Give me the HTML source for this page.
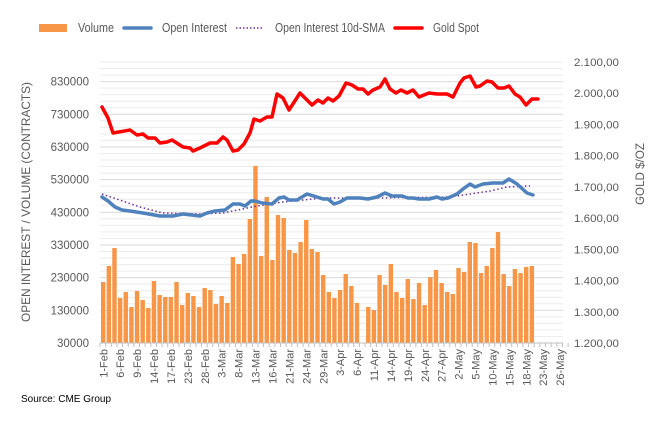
<!DOCTYPE html>
<html><head><meta charset="utf-8"><style>
html,body{margin:0;padding:0;background:#fff}
svg{display:block;font-family:"Liberation Sans",sans-serif}
</style></head><body>
<svg id="c" width="664" height="422" viewBox="0 0 664 422" xmlns="http://www.w3.org/2000/svg"></svg>
<script>
(function(){
var s=document.getElementById('c');var h='';
var T=62,B=343,L=100,R=563;
function yl(v){return B-(v-30000)*(B-T)/860000;}
for(var v=30000;v<=890000;v+=20000){var y=yl(v);var maj=((v-30000)%100000===0);h+='<line x1="'+L+'" x2="'+R+'" y1="'+y+'" y2="'+y+'" stroke="'+(maj?'#d9d9d9':'#ececec')+'" stroke-width="1"/>';}
for(var v=30000;v<=830000;v+=100000){h+='<text x="89" y="'+(yl(v)+4)+'" font-size="11.5" fill="#595959" text-anchor="end">'+v+'</text>';}
for(var i=0;i<=9;i++){var val=1200+i*100;var y=B-i*(B-T)/9;var str=(val>=1000?(Math.floor(val/1000)+'.'+String(val%1000).padStart(3,'0')):val)+',00';h+='<text x="574" y="'+(y+4)+'" font-size="11" fill="#595959" textLength="45" lengthAdjust="spacingAndGlyphs">'+str+'</text>';}
var b1=[282,266,248,298,292,307,291,300,308,281,295,297,297,282,305,293,296,307,288,290,304,296,303,257,264,254,219,166,256,197,260,215,218,250,253,242,220,249,252,275,292,298,290,274,286,303];
var b2=[307,310,275,285,264,292,298,279,299,283,305,277,270,283,292,294,268,272,242,243,273,266,248,232,274,286,269,273,267,266];
var P=5.64;
b1.forEach(function(t,i){h+='<rect x="'+(101+P*i)+'" y="'+t+'" width="4.4" height="'+(B-t)+'" fill="#f79646"/>';});
b2.forEach(function(t,i){h+='<rect x="'+(101+P*(47+i))+'" y="'+t+'" width="4.4" height="'+(B-t)+'" fill="#f79646"/>';});
h+='<line x1="'+L+'" x2="'+R+'" y1="'+B+'" y2="'+B+'" stroke="#bfbfbf"/>';
for(var i=0;i<=83;i++){var x=100+P*i;h+='<line x1="'+x+'" x2="'+x+'" y1="'+B+'" y2="'+(B+4)+'" stroke="#bfbfbf"/>';}
var sma=[[102,194],[140,207],[163,213],[200,214],[223,213],[257,206],[283,202],[323,198],[350,198],[373,198],[450,197],[490,191],[507,187],[530,186]];
var oi=[[102,197],[108,201],[115,207],[122,210],[130,211],[143,213],[160,216],[173,216],[183,214],[200,216],[207,213],[215,211],[225,210],[233,204],[240,204],[245,206],[251,201],[255,201],[262,203],[272,204],[279,198],[284,197],[289,200],[297,200],[307,194],[317,197],[323,199],[328,199],[334,204],[340,202],[347,198],[360,198],[368,199],[377,197],[385,193],[392,196],[402,196],[408,198],[413,198],[419,199],[429,199],[437,197],[442,199],[448,198],[457,194],[463,189],[470,184],[475,187],[483,184],[493,183],[503,183],[509,179],[517,184],[527,193],[533,195]];
var gs=[[102,107],[108,118],[113,133],[130,130],[137,135],[143,134],[148,138],[155,138],[160,143],[167,142],[172,140],[183,147],[190,148],[193,151],[200,148],[210,143],[217,143],[223,137],[227,140],[233,151],[238,150],[244,144],[250,133],[254,119],[260,121],[267,117],[272,117],[277,94],[283,98],[289,110],[300,93],[312,105],[318,100],[323,103],[328,98],[333,101],[339,96],[346,83],[352,85],[358,89],[363,89],[368,94],[373,90],[380,87],[385,79],[390,89],[396,93],[401,90],[407,93],[413,90],[419,97],[429,93],[437,94],[447,94],[453,97],[460,83],[464,78],[470,76],[476,87],[480,86],[487,81],[492,82],[498,88],[504,88],[509,86],[515,94],[520,97],[526,105],[532,99],[538,99]];
function pl(a){return a.map(function(p){return p.join(',');}).join(' ');}
h+='<polyline points="'+pl(sma)+'" fill="none" stroke="#7030a0" stroke-width="1.5" stroke-dasharray="1.5,2.5"/>';
h+='<polyline points="'+pl(oi)+'" fill="none" stroke="#4f81bd" stroke-width="3.5" stroke-linejoin="round" stroke-linecap="round"/>';
h+='<polyline points="'+pl(gs)+'" fill="none" stroke="#ff0000" stroke-width="3.5" stroke-linejoin="round" stroke-linecap="round"/>';
var lab=['1-Feb','6-Feb','9-Feb','14-Feb','17-Feb','23-Feb','28-Feb','3-Mar','8-Mar','13-Mar','16-Mar','21-Mar','24-Mar','29-Mar','3-Apr','6-Apr','11-Apr','14-Apr','19-Apr','24-Apr','27-Apr','2-May','5-May','10-May','15-May','18-May','23-May','26-May'];
lab.forEach(function(t,i){var x=103.3+P*3*i+4;h+='<text transform="translate('+x+',349) rotate(-90)" font-size="11" fill="#595959" text-anchor="end">'+t+'</text>';});
h+='<text transform="translate(30,202) rotate(-90)" font-size="12" fill="#595959" text-anchor="middle" textLength="240" lengthAdjust="spacingAndGlyphs">OPEN INTEREST / VOLUME (CONTRACTS)</text>';
h+='<text transform="translate(644,174) rotate(-90)" font-size="12" fill="#595959" text-anchor="middle" textLength="62" lengthAdjust="spacingAndGlyphs">GOLD $/OZ</text>';
h+='<rect x="39" y="24" width="28" height="8" fill="#f79646"/><text x="78" y="32" font-size="13" fill="#595959" textLength="36" lengthAdjust="spacingAndGlyphs">Volume</text>';
h+='<line x1="124" x2="151" y1="28" y2="28" stroke="#4f81bd" stroke-width="3.5" stroke-linecap="round"/><text x="162" y="32" font-size="13" fill="#595959" textLength="65" lengthAdjust="spacingAndGlyphs">Open Interest</text>';
h+='<line x1="236" x2="263" y1="28" y2="28" stroke="#7030a0" stroke-width="1.5" stroke-dasharray="1.5,2"/><text x="275" y="32" font-size="13" fill="#595959" textLength="110" lengthAdjust="spacingAndGlyphs">Open Interest 10d-SMA</text>';
h+='<line x1="395" x2="422" y1="28" y2="28" stroke="#ff0000" stroke-width="3.5" stroke-linecap="round"/><text x="433" y="32" font-size="13" fill="#595959" textLength="46" lengthAdjust="spacingAndGlyphs">Gold Spot</text>';
h+='<text x="21" y="402" font-size="10" fill="#000">Source: CME Group</text>';
s.innerHTML=h;
})();
</script>
</body></html>
